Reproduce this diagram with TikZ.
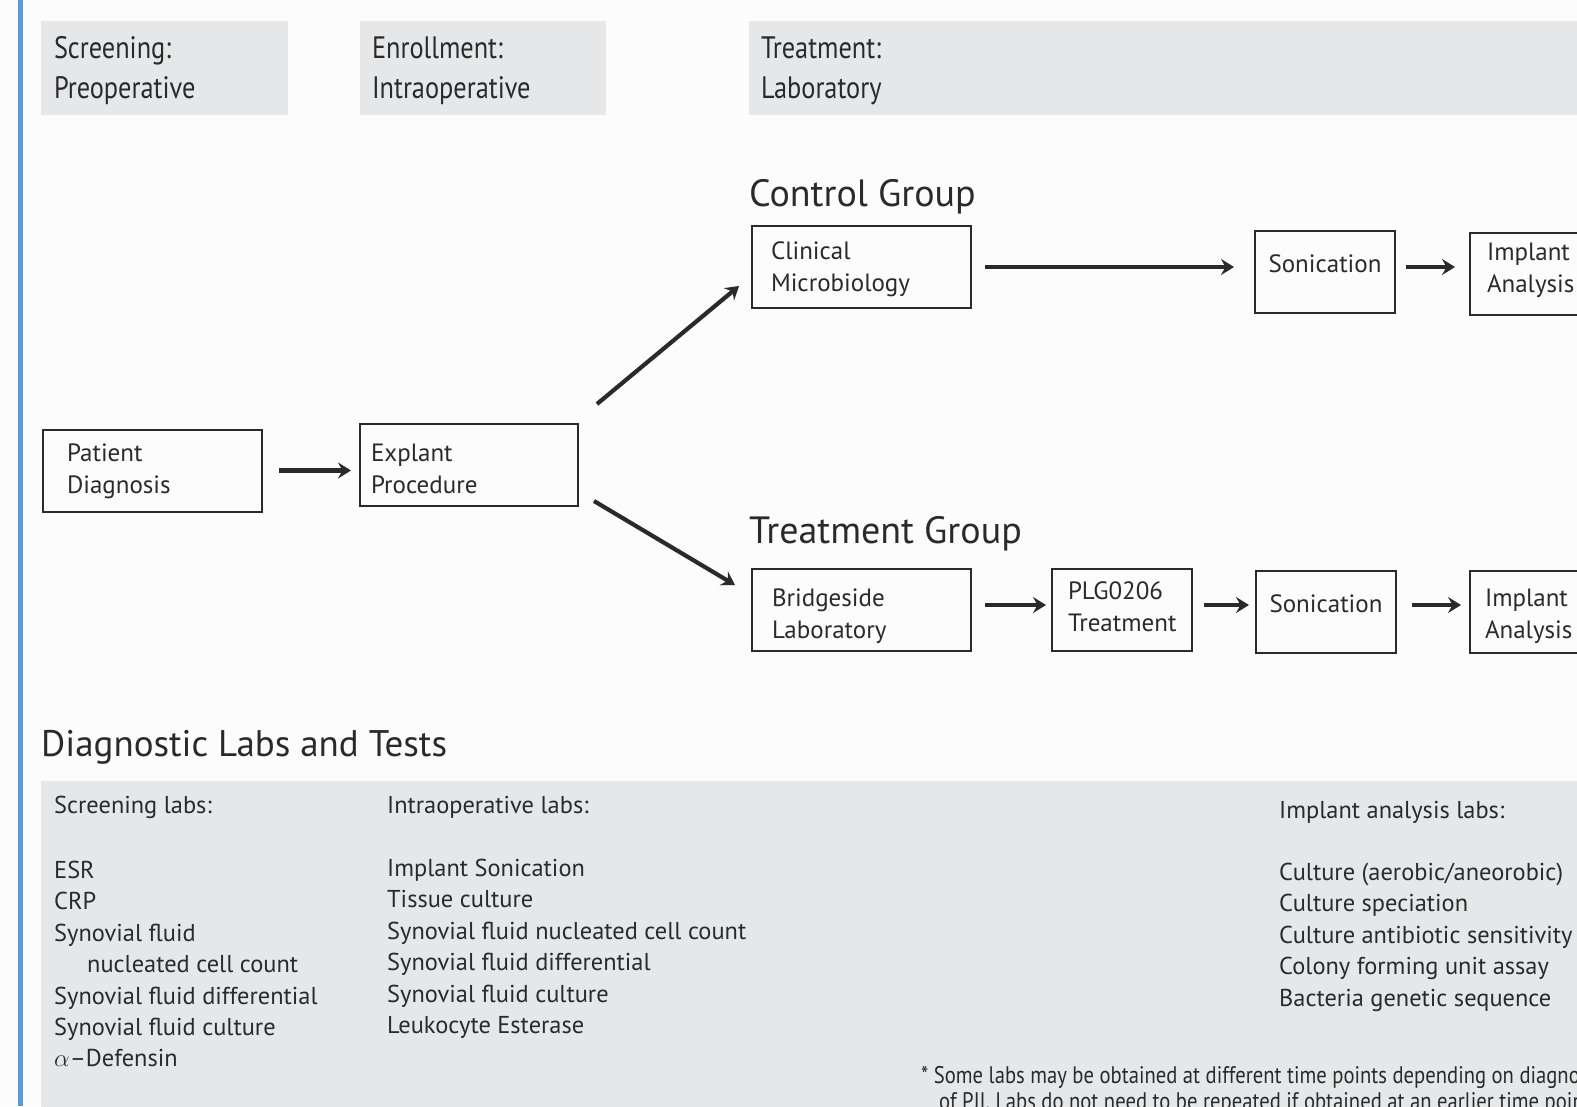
\documentclass[tikz,border=0pt]{standalone}
\usepackage{fontspec}
\setmainfont{PT Sans}
\newfontfamily\condfont{PT Sans}[FakeStretch=0.85]
\newfontfamily\footfont{PT Sans}[FakeStretch=0.86]
\usetikzlibrary{arrows.meta,calc}
\definecolor{ink}{HTML}{2A2A2A}
\definecolor{panel}{HTML}{E6E7E8}
\definecolor{barblue}{HTML}{5B9BD5}
\definecolor{bg}{HTML}{FCFCFC}
% two-line box text: #1 = strut height of first line, #2 = strut depth of last line (pt); #3, #4 = lines
\newcommand{\twoline}[4]{\rule{0pt}{#1pt}#3\\#4\rule[-#2pt]{0pt}{#2pt}}
\begin{document}
\begin{tikzpicture}[x=1pt,y=-1pt,
  box/.style={draw=ink, line width=2pt, rectangle, inner ysep=0pt, align=left,
    font=\fontsize{25}{32}\selectfont, text=ink, minimum height=82pt},
  cbox/.style={box, align=center, text depth=16pt},
  head/.style={fill=panel, rectangle, inner ysep=0pt, align=left, minimum height=94pt,
    font=\condfont\fontsize{31}{40}\selectfont, text=ink},
  title/.style={anchor=base west, inner sep=0pt, font=\fontsize{38}{46}\selectfont, text=ink},
  lablist/.style={anchor=base west, inner sep=0pt, font=\fontsize{24.4}{31.4}\selectfont, text=ink},
  arr/.style={draw=ink, line width=4.2pt, -{Stealth[length=13pt,width=16pt,inset=4.5pt]}},
]
\useasboundingbox (0,0) rectangle (1577,1106);
\clip (0,0) rectangle (1577,1106);
\fill[bg] (0,0) rectangle (1577,1106);
\fill[barblue] (18,0) rectangle (23,1106);

% phase headers
\node[head, minimum width=247pt, inner xsep=13pt, text width=221pt] (hscr) at (164.5,68)
  {\rule{0pt}{34pt}Screening:\\Preoperative\rule[-14pt]{0pt}{14pt}};
\node[head, minimum width=246pt, inner xsep=12pt, text width=222pt] (henr) at (483,68)
  {\rule{0pt}{34pt}Enrollment:\\Intraoperative\rule[-14pt]{0pt}{14pt}};
\node[head, minimum width=900pt, inner xsep=12pt, text width=876pt] (htrt) at (1199,68)
  {\rule{0pt}{34pt}Treatment:\\Laboratory\rule[-14pt]{0pt}{14pt}};

% group titles
\node[title] (tctl) at (749,206) {Control Group};
\node[title] (ttrt) at (749,543) {Treatment Group};

% flow boxes
\node[box, minimum width=219pt, inner xsep=24pt, text width=171pt] (pat) at (152.5,470.5) {\twoline{27.5}{14}{Patient}{Diagnosis}};
\node[box, minimum width=218pt, inner xsep=11pt, text width=196pt] (expl) at (469,465) {\twoline{30.5}{6}{Explant}{Procedure}};
\node[box, minimum width=219pt, inner xsep=19pt, text width=181pt] (clin) at (861.5,267) {\twoline{31.5}{14}{Clinical}{Microbiology}};
\node[cbox, minimum width=140pt, inner xsep=6pt, text width=128pt] (son1) at (1325,272) {Sonication};
\node[box, minimum width=140pt, inner xsep=17pt, text width=106pt] (imp1) at (1540,274) {\twoline{19.5}{14}{Implant}{Analysis}};
\node[box, minimum width=219pt, inner xsep=20pt, text width=179pt] (brg) at (861.5,610) {\twoline{31.5}{6}{Bridgeside}{Laboratory}};
\node[box, minimum width=140pt, inner xsep=16pt, text width=108pt] (plg) at (1122,610) {\twoline{24.5}{14}{PLG0206}{Treatment}};
\node[cbox, minimum width=140pt, inner xsep=6pt, text width=128pt] (son2) at (1326,612) {Sonication};
\node[box, minimum width=140pt, inner xsep=15pt, text width=110pt] (imp2) at (1540,612) {\twoline{27.5}{6}{Implant}{Analysis}};

% connectors
\draw[arr, shorten <=16pt, shorten >=8pt] (pat.east) -- (pat.east -| expl.west);
\draw[arr] ($(expl.north east)+(18,-19)$) -- ($(clin.south west)+(-12,-23)$);
\draw[arr] ($(expl.south east)+(15,-6)$) -- ($(brg.north west)+(-16,17)$);
\draw[arr, line width=3.6pt, shorten <=13pt, shorten >=20pt] (clin.east) -- (clin.east -| son1.west);
\draw[arr, shorten <=10pt, shorten >=14pt] (son1.east |- clin.east) -- (clin.east -| imp1.west);
\draw[arr, shorten <=13pt, shorten >=5pt] (brg.east |- 0,605) -- (plg.west |- 0,605);
\draw[arr, shorten <=11pt, shorten >=6pt] (plg.east |- 0,605) -- (son2.west |- 0,605);
\draw[arr, shorten <=15pt, shorten >=8pt] (son2.east |- 0,605) -- (imp2.west |- 0,605);

% diagnostic labs
\node[title, font=\fontsize{37}{46}\selectfont] (tdiag) at (41,756) {Diagnostic Labs and Tests};
\fill[panel] (41,781) rectangle (1700,1200);
\node[lablist] (lscr) at (54,813) {\parbox[t]{320pt}{Screening labs:\\[34pt]
ESR\\
CRP\\
Synovial fluid\\
\hspace*{33pt}nucleated cell count\\
Synovial fluid differential\\
Synovial fluid culture\\
$\alpha$–Defensin}};
\node[lablist] (lint) at (387,813) {\parbox[t]{400pt}{Intraoperative labs:\\[32pt]
Implant Sonication\\
Tissue culture\\
Synovial fluid nucleated cell count\\
Synovial fluid differential\\
Synovial fluid culture\\
Leukocyte Esterase}};
\node[lablist] (limp) at (1279,818) {\parbox[t]{400pt}{Implant analysis labs:\\[31pt]
Culture (aerobic/aneorobic)\\
Culture speciation\\
Culture antibiotic sensitivity\\
Colony forming unit assay\\
Bacteria genetic sequence}};
\node[anchor=base west, inner sep=0pt, text=ink, font=\footfont\fontsize{24}{26}\selectfont] (note) at (921,1083)
  {\parbox[t]{1000pt}{* Some labs may be obtained at different time points depending on diagnosis\\
  \hspace*{18pt}of PJI. Labs do not need to be repeated if obtained at an earlier time point.}};
\end{tikzpicture}
\end{document}
